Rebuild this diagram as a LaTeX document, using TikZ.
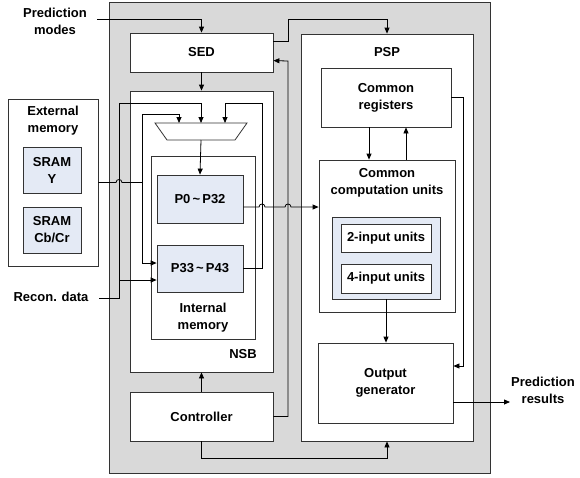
\documentclass[tikz,border=0pt]{standalone}
\usepackage{fontspec}
\setmainfont{Liberation Sans}
\usetikzlibrary{arrows.meta,calc}
\definecolor{panelgray}{HTML}{D9D9D9}
\definecolor{cellblue}{HTML}{E4EAF5}
\begin{document}
\begin{tikzpicture}[x=1pt,y=-1pt,
  font=\fontsize{13}{17}\selectfont\bfseries,
  blk/.style={draw=black!80, line width=0.8pt, fill=white, rectangle, inner sep=0pt, align=center},
  cell/.style={blk, fill=cellblue},
  wire/.style={line width=0.8pt, draw=black},
  arr/.style={wire, -{Triangle[length=6pt,width=5pt]}},
  lbl/.style={align=center, inner sep=0pt}]
\useasboundingbox (0,0) rectangle (580,477);

% chip outline
\node[blk, fill=panelgray, minimum width=381pt, minimum height=471pt] (chip) at (299.5,237.5) {};

% left column: SED, NSB, controller
\node[blk, minimum width=143pt, minimum height=39pt] (sed) at (201.5,52.5) {SED};
\node[blk, minimum width=143pt, minimum height=281pt] (nsb) at (201.5,231.5) {};
\node[lbl, anchor=east] (nsblbl) at (257,354) {NSB};
\node[blk, minimum width=143pt, minimum height=49pt] (ctrl) at (201.5,416.5) {Controller};

% internal memory with its two banks
\node[blk, minimum width=104pt, minimum height=183pt] (imem) at (203,247.5) {};
\node[lbl] (imemlbl) at (203,318) {Internal\\memory};
\node[cell, minimum width=86pt, minimum height=48pt] (p0) at (200,199) {P0\,{\char`~}\,P32};
\node[cell, minimum width=86pt, minimum height=47pt] (p33) at (200,268.5) {P33\,{\char`~}\,P43};

% multiplexer
\draw[line width=0.8pt, draw=black!80, fill=white] (155,123) -- (247,123) -- (235,140) -- (167,140) -- cycle;
\coordinate (muxL) at (179,123);
\coordinate (muxM) at (201,123);
\coordinate (muxR) at (225,123);
\coordinate (muxout) at (201,140);

% external memory
\node[blk, minimum width=90pt, minimum height=167pt] (ext) at (53,182.5) {};
\node[lbl] (extlbl) at (53,120.5) {External\\memory};
\node[cell, minimum width=58pt, minimum height=46pt] (sramy) at (52,170) {SRAM\\Y};
\node[cell, minimum width=58pt, minimum height=46pt] (sramc) at (52,230) {SRAM\\Cb/Cr};

% PSP
\node[blk, minimum width=172pt, minimum height=407pt] (psp) at (387,237.5) {};
\node[lbl] (psplbl) at (387,52) {PSP};
\node[blk, minimum width=130pt, minimum height=59pt] (creg) at (386,97.5) {Common\\registers};
\node[blk, minimum width=136pt, minimum height=152pt] (ccu) at (387,236) {};
\node[lbl] (ccylbl) at (387,183) {Common\\computation units};
\node[cell, minimum width=108pt, minimum height=82pt] (units) at (386,258) {};
\node[blk, minimum width=90pt, minimum height=28pt] (u2) at (386,238) {2-input units};
\node[blk, minimum width=90pt, minimum height=29pt] (u4) at (386,278.5) {4-input units};
\node[blk, minimum width=135pt, minimum height=80pt] (og) at (385.5,383) {Output\\generator};

% outside labels
\node[lbl] (pm) at (55,21) {Prediction\\modes};
\node[lbl] (rd) at (51,297) {Recon. data};
\node[lbl] (pr) at (543,390) {Prediction\\results};
\coordinate (pmin) at (97,19);
\coordinate (rdin) at (99,298);
\coordinate (prout) at (510,402);

% prediction modes into SED, SED to PSP
\draw[arr] (pmin) -| (sed.north);
\draw[arr] ($(sed.north east)+(0,9)$) -| (288,19) -| (psp.north);
\draw[arr] (sed.south) -- (nsb.north);

% controller connections
\draw[arr] (ctrl.north) -- (nsb.south);
\draw[arr] (ctrl.east) -| (288,61) -- ($(sed.north east)+(0,28)$);
\draw[arr] (ctrl.south) |- ($(psp.south)+(0,17)$) -- (psp.south);

% reconstructed data
\coordinate (rdtap) at (119,280);
\draw[arr] (rdin) -| (119,103) -| (muxM);
\draw[arr] (rdtap) -- ($(p33.west)+(0,11.5)$);

% external memory data
\coordinate (emtap) at (142,182.5);
\draw[wire] (ext.east) -- (116,182.5) .. controls (116,178.5) and (122,178.5) .. (122,182.5) -- (emtap);
\draw[arr] (emtap) |- (179,114) -- (muxL);
\draw[arr] (emtap) |- ($(p33.west)+(0,-5.5)$);

% feedback from P33~P43 to the multiplexer
\draw[arr] (p33.east) -| (262,103) -| (muxR);
\draw[arr] (muxout) -- (p0.north);

% neighbour samples to the PSP
\coordinate (p0out) at ($(p0.east)+(0,8)$);
\draw[arr] (p0out) -- (259,207) .. controls (259,203) and (265,203) .. (265,207)
  -- (285,207) .. controls (285,203) and (291,203) .. (291,207) -- (ccu.west |- p0out);

% inside the PSP
\draw[arr] ([xshift=-17pt]creg.south) -- ([xshift=-17pt]creg.south |- ccu.north);
\draw[arr] ([xshift=20pt]creg.south |- ccu.north) -- ([xshift=20pt]creg.south);
\draw[arr] (units.south) -- (units.south |- og.north);
\draw[arr] (creg.east) -| ($(og.east)+(10,-17)$) -- ($(og.east)+(0,-17)$);
\draw[arr] ($(og.east)+(0,19)$) -- (prout);
\end{tikzpicture}
\end{document}
